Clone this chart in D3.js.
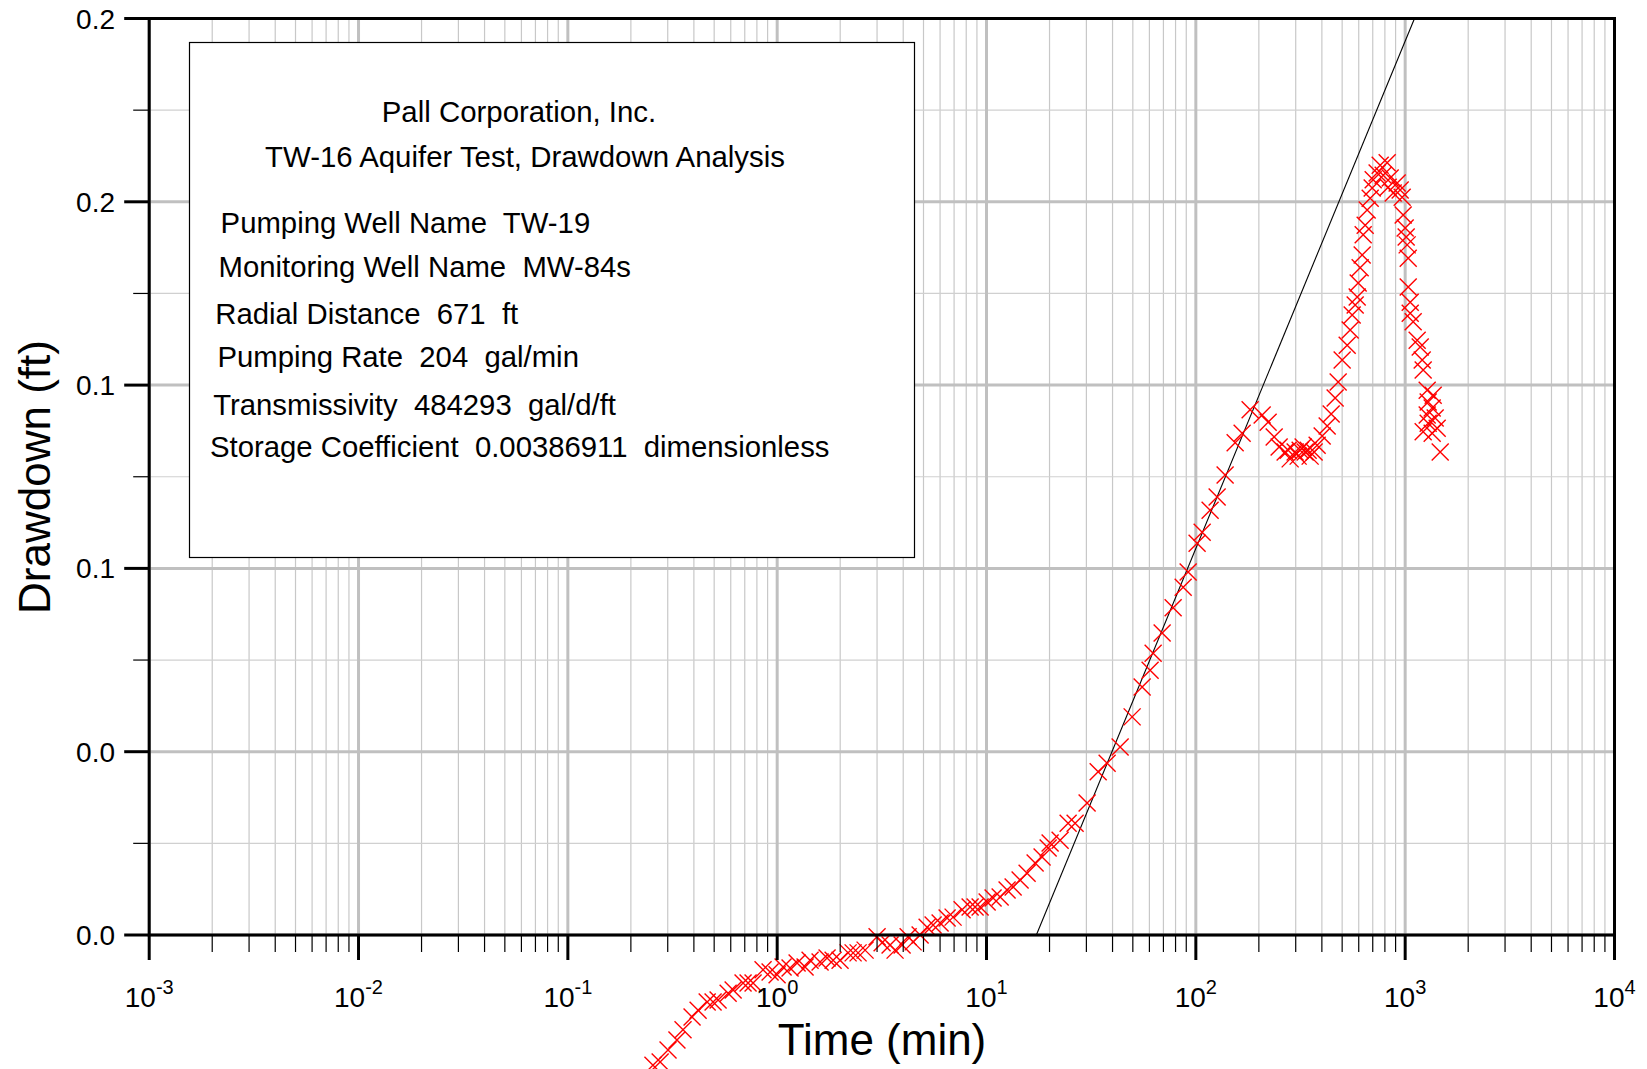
<!DOCTYPE html>
<html><head><meta charset="utf-8">
<script src="https://cdn.jsdelivr.net/npm/d3@7"></script>
<style>
body{margin:0;background:#fff}
svg{display:block}
text{font-family:"Liberation Sans", Arial, sans-serif; fill:#000}
</style>
</head><body>
<svg id="chart" width="1647" height="1069"></svg>
<script>
// ---- data (time in minutes, drawdown in ft) ----
const earlyPts = [[0.255,-0.0284],[0.276,-0.0277],[0.301,-0.0251],[0.332,-0.0229],[0.355,-0.0207],[0.392,-0.0179],[0.419,-0.0164],[0.463,-0.0146],[0.494,-0.0146],[0.522,-0.0142],[0.583,-0.0127],[0.616,-0.0120],[0.687,-0.0105],[0.726,-0.0105],[0.767,-0.0105],[0.856,-0.0076],[0.925,-0.0081],[0.999,-0.0087],[1.067,-0.0070],[1.152,-0.0072],[1.245,-0.0061],[1.359,-0.0070],[1.436,-0.0055],[1.603,-0.0059],[1.731,-0.0050],[1.850,-0.0055],[1.997,-0.0055],[2.182,-0.0039],[2.305,-0.0039],[2.435,-0.0039],[2.630,-0.0033],[3.001,-0.0004],[3.171,-0.0017],[3.462,-0.0022],[3.658,-0.0033],[3.952,-0.0022],[4.222,-0.0004],[4.461,-0.0015],[4.818,0.0000],[5.203,0.0017],[5.557,0.0022],[6.002,0.0026],[6.483,0.0037],[6.924,0.0039],[7.645,0.0055],[8.35,0.0061],[8.82,0.0061],[9.32,0.0061],[10.07,0.0072],[10.75,0.0081],[11.62,0.0083],[12.54,0.0098],[13.40,0.0105],[14.47,0.0120],[15.63,0.0135],[17.07,0.0157],[18.43,0.0170],[19.70,0.0190]];
const risePts = [[20.13,0.0201],[22.47,0.0207],[24.54,0.0244],[26.50,0.0244],[30.24,0.0288],[34.15,0.0356],[37.69,0.0375],[43.48,0.0410],[49.62,0.0476],[55.40,0.0541],[60.47,0.0578],[62.52,0.0615],[69.02,0.0659],[77.90,0.0714],[87.00,0.0759],[91.89,0.0792],[101.4,0.0855],[107.2,0.0879],[117.0,0.0927],[126.4,0.0956],[138.0,0.1004],[154.1,0.1074],[166.4,0.1095],[181.7,0.1146]];
const troughPts = [[207.4,0.1135],[221.5,0.1119],[236.7,0.1087],[250.0,0.1065],[267.0,0.1054],[276.1,0.1058],[282.2,0.1039],[298.1,0.1054],[308.1,0.1045],[315.0,0.1058],[325.6,0.1065],[332.8,0.1054],[344.0,0.1058],[351.6,0.1045],[367.4,0.1054]];
const peakPts = [[379.7,0.1069],[401.3,0.1089],[424.0,0.1111],[443.1,0.1137],[462.9,0.1172],[478.5,0.1207],[500.0,0.1255],[528.4,0.1287],[546.1,0.1320],[558.3,0.1353],[577.0,0.1375],[589.9,0.1392],[596.3,0.1423],[609.5,0.1456],[623.2,0.1484],[630.1,0.1528],[644.1,0.1549],[658.3,0.1582],[680.6,0.1608],[695.7,0.1630],[703.4,0.1648],[734.6,0.1663],[759.7,0.1680],[785.2,0.1658],[820.4,0.1685],[829.4,0.1632],[847.9,0.1652],[876.3,0.1619],[915.7,0.1641],[946.4,0.1626],[967.6,0.1610]];
const recessionPts = [[978.3,0.1571],[1000,0.1543],[1011,0.1523],[1022,0.1506],[1034,0.1477],[1034,0.1414],[1057,0.1381],[1057,0.1357],[1092,0.1338],[1141,0.1298],[1180,0.1283],[1206,0.1255],[1219,0.1233],[1274,0.1189],[1361,0.1178],[1288,0.1163],[1346,0.1150],[1274,0.1135],[1391,0.1128],[1288,0.1117],[1422,0.1106],[1346,0.1095],[1219,0.1098],[1470,0.1054]];

// Cooper-Jacob straight-line fit endpoints
const fitTime = [17.3, 1108];
const fitDrawdown = [0, 0.2];

// axis ticks
const xDecades = [1e-3, 1e-2, 1e-1, 1e0, 1e1, 1e2, 1e3, 1e4];
const xTickExponents = ["-3", "-2", "-1", "0", "1", "2", "3", "4"];
const xMinorMultipliers = [2, 3, 4, 5, 6, 7, 8, 9];
const yTickValues = [0, 0.04, 0.08, 0.12, 0.16, 0.2];
const yTickLabels = ["0.0", "0.0", "0.1", "0.1", "0.2", "0.2"];
const yMinorValues = [0.02, 0.06, 0.10, 0.14, 0.18];

const xTitle = "Time (min)";
const yTitle = "Drawdown (ft)";
const infoHeader = ["Pall Corporation, Inc.", "TW-16 Aquifer Test, Drawdown Analysis"];
const infoLines = [
  "Pumping Well Name  TW-19",
  "Monitoring Well Name  MW-84s",
  "Radial Distance  671  ft",
  "Pumping Rate  204  gal/min",
  "Transmissivity  484293  gal/d/ft",
  "Storage Coefficient  0.00386911  dimensionless"
];

// ---- layout ----
const L = 149.2, R = 1614.5, T = 18.5, B = 935;
const svg = d3.select("#chart");
const x = d3.scaleLog().domain([1e-3, 1e4]).range([L, R]);
const y = d3.scaleLinear().domain([0, 0.2]).range([B, T]);

const xMinor = [];
xDecades.slice(0, -1).forEach(d => xMinorMultipliers.forEach(m => xMinor.push(d * m)));

// grid
const grid = svg.append("g");
grid.selectAll(".vminor").data(xMinor).join("line")
  .attr("x1", d => x(d)).attr("x2", d => x(d)).attr("y1", T).attr("y2", B)
  .attr("stroke", "#c8c8c8").attr("stroke-width", 1.2);
grid.selectAll(".hminor").data(yMinorValues).join("line")
  .attr("x1", L).attr("x2", R).attr("y1", d => y(d)).attr("y2", d => y(d))
  .attr("stroke", "#d0d0d0").attr("stroke-width", 1.2);
grid.selectAll(".vmajor").data(xDecades).join("line")
  .attr("x1", d => x(d)).attr("x2", d => x(d)).attr("y1", T).attr("y2", B)
  .attr("stroke", "#c0c0c0").attr("stroke-width", 3);
grid.selectAll(".hmajor").data(yTickValues).join("line")
  .attr("x1", L).attr("x2", R).attr("y1", d => y(d)).attr("y2", d => y(d))
  .attr("stroke", "#c0c0c0").attr("stroke-width", 3);

// info box
const box = svg.append("g");
box.append("rect").attr("x", 189.5).attr("y", 42.5).attr("width", 725).attr("height", 515)
  .attr("fill", "#fff").attr("stroke", "#000").attr("stroke-width", 1.2);
const headerPos = [[519, 122], [525, 167]];
box.selectAll(".hdr").data(infoHeader).join("text")
  .attr("x", (d, i) => headerPos[i][0]).attr("y", (d, i) => headerPos[i][1])
  .attr("text-anchor", "middle").style("font-size", "29.4px").style("white-space", "pre")
  .text(d => d);
const linePos = [[220.6, 232.5], [218.5, 277], [215.3, 324], [217.4, 367], [213.2, 414.5], [210, 456.5]];
box.selectAll(".ln").data(infoLines).join("text")
  .attr("x", (d, i) => linePos[i][0]).attr("y", (d, i) => linePos[i][1])
  .style("font-size", "29.3px").style("white-space", "pre")
  .text(d => d);

// fit line
svg.append("path")
  .datum(fitTime.map((t, i) => [t, fitDrawdown[i]]))
  .attr("d", d3.line().x(d => x(d[0])).y(d => y(d[1])))
  .attr("fill", "none").attr("stroke", "#000").attr("stroke-width", 1.1);

// observations
const obs = [].concat(earlyPts, risePts, troughPts, peakPts, recessionPts);
const c = 8.5;
svg.append("g").selectAll("path").data(obs).join("path")
  .attr("transform", d => `translate(${x(d[0])},${y(d[1])})`)
  .attr("d", `M${-c},${-c}L${c},${c}M${-c},${c}L${c},${-c}`)
  .attr("stroke", "#ff0000").attr("stroke-width", 1.4).attr("fill", "none");

// frame
svg.append("rect").attr("x", L).attr("y", T).attr("width", R - L).attr("height", B - T)
  .attr("fill", "none").attr("stroke", "#000").attr("stroke-width", 3);

// ticks
const ax = svg.append("g");
ax.selectAll(".xmt").data(xDecades).join("line")
  .attr("x1", d => x(d)).attr("x2", d => x(d)).attr("y1", B).attr("y2", B + 25)
  .attr("stroke", "#000").attr("stroke-width", 3);
ax.selectAll(".xnt").data(xMinor).join("line")
  .attr("x1", d => x(d)).attr("x2", d => x(d)).attr("y1", B).attr("y2", B + 17)
  .attr("stroke", "#000").attr("stroke-width", 1.2);
ax.selectAll(".ymt").data(yTickValues).join("line")
  .attr("x1", L - 25).attr("x2", L).attr("y1", d => y(d)).attr("y2", d => y(d))
  .attr("stroke", "#000").attr("stroke-width", 3);
ax.selectAll(".ynt").data(yMinorValues).join("line")
  .attr("x1", L - 16).attr("x2", L).attr("y1", d => y(d)).attr("y2", d => y(d))
  .attr("stroke", "#000").attr("stroke-width", 1.2);

// tick labels
ax.selectAll(".ylab").data(yTickValues).join("text")
  .attr("x", 115).attr("y", d => y(d)).attr("dy", "0.36em")
  .attr("text-anchor", "end").style("font-size", "28px")
  .text((d, i) => yTickLabels[i]);
const xl = ax.selectAll(".xlab").data(xDecades).join("text")
  .attr("x", d => x(d)).attr("y", 1007).attr("text-anchor", "middle")
  .style("font-size", "28px");
xl.append("tspan").text("10");
xl.append("tspan").attr("dy", -13).style("font-size", "20px").text((d, i) => xTickExponents[i]);

// titles
svg.append("text").attr("x", 882).attr("y", 1055).attr("text-anchor", "middle")
  .style("font-size", "44px").text(xTitle);
svg.append("text").attr("transform", "translate(49.5,477) rotate(-90)")
  .attr("text-anchor", "middle").style("font-size", "44px").text(yTitle);
</script>
</body></html>
